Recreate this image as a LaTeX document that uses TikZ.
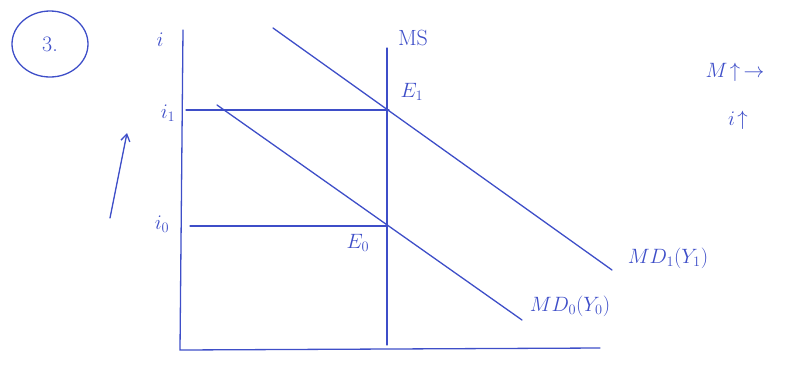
\documentclass[tikz,border=0pt]{standalone}
\usetikzlibrary{arrows.meta,shapes.geometric}
\definecolor{pen}{RGB}{62,78,200}
\begin{document}
\begin{tikzpicture}[x=1pt,y=-1pt,
  ink/.style={draw=pen,line width=1.3pt,line cap=round},
  lbl/.style={text=pen,font=\fontsize{22}{24}\selectfont,inner sep=0pt}]
\useasboundingbox (0,0) rectangle (785,365);
% axes
\coordinate (ytop) at (183,30);
\coordinate (orig) at (180,350);
\coordinate (xend) at (600,348);
\draw[ink] (ytop) -- (orig) -- (xend);
% MS
\coordinate (mstop) at (387,48);
\coordinate (msbot) at (387,345);
\draw[ink] (mstop) -- (msbot);
% MD curves
\coordinate (md1a) at (273,28);
\coordinate (md1b) at (612,270);
\coordinate (md0a) at (217,105);
\coordinate (md0b) at (522,320);
\draw[ink] (md1a) -- (md1b);
\draw[ink] (md0a) -- (md0b);
% equilibria and rates
\coordinate (E1) at (389,110);
\coordinate (E0) at (387,226);
\coordinate (i1a) at (186,110);
\coordinate (i0a) at (190,226);
\draw[ink] (i1a) -- (E1);
\draw[ink] (i0a) -- (E0);
% labels
\node[lbl] (li) at (160,40) {$i$};
\node[lbl] (li1) at (168,113) {$i_1$};
\node[lbl] (li0) at (162,224) {$i_0$};
\node[lbl] (lms) at (413,38) {MS};
\node[lbl] (le1) at (412,92) {$E_1$};
\node[lbl] (le0) at (358,243) {$E_0$};
\node[lbl] (lmd1) at (668,258) {$MD_1(Y_1)$};
\node[lbl] (lmd0) at (570,306) {$MD_0(Y_0)$};
\node[lbl] (lm) at (735,72) {$M\!\uparrow\,\rightarrow$};
\node[lbl] (lir) at (738,120) {$i\!\uparrow$};
% circled number
\node[lbl,draw=pen,line width=1.3pt,ellipse,minimum width=76pt,minimum height=66pt] (num) at (50,44) {3.};
% up arrow
\coordinate (arra) at (110,218);
\coordinate (arrb) at (127,133);
\draw[ink,-{Straight Barb[length=7pt,width=9pt]}] (arra) -- (arrb);
\end{tikzpicture}
\end{document}
